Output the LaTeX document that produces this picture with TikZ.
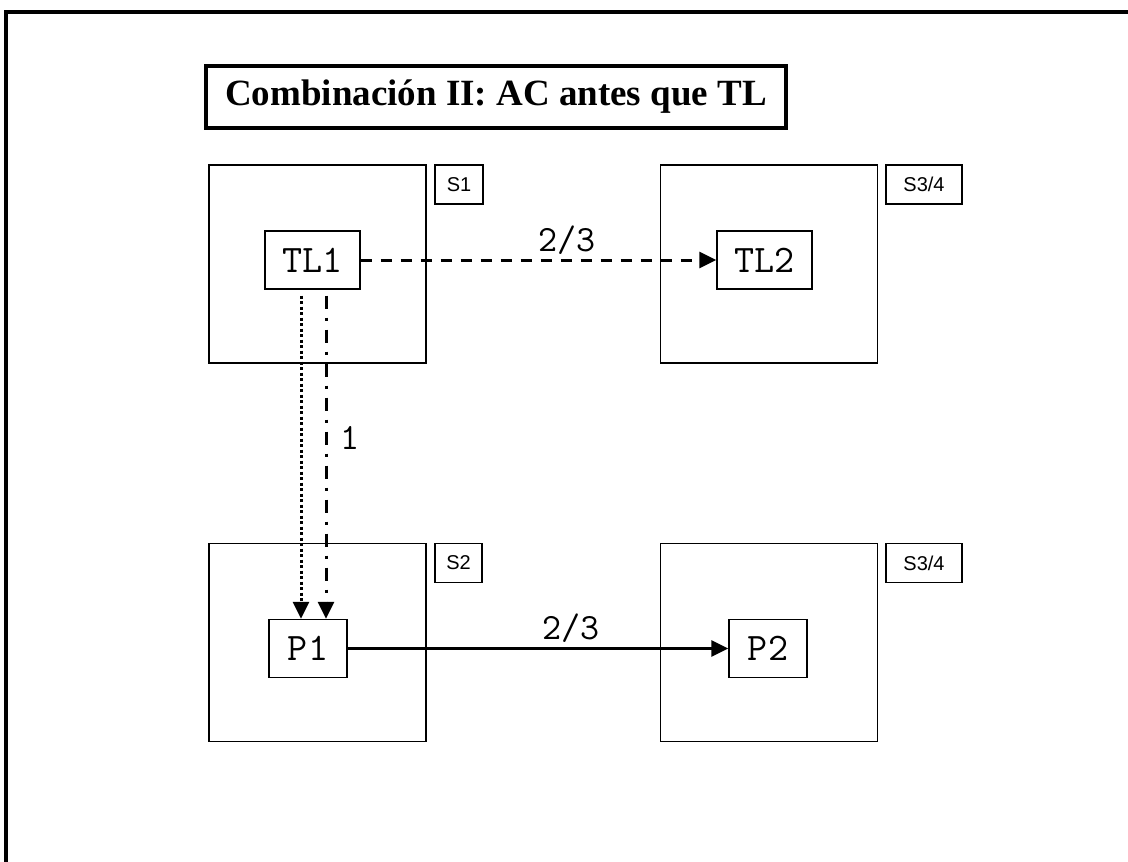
\documentclass[tikz,border=0pt]{standalone}
\usepackage{fontspec}
\setmainfont{Liberation Serif}
\newfontfamily\tagfont{Liberation Sans}
\usetikzlibrary{positioning,arrows.meta,calc}

\begin{document}
\begin{tikzpicture}[x=1pt, y=-1pt,
  every node/.style={draw, line width=1.3pt, inner sep=0pt},
  site/.style={minimum width=217pt, minimum height=198pt},
  tag/.style={minimum height=39pt, font=\tagfont\fontsize{20}{22}\selectfont},
  proc/.style={minimum height=58pt, font=\ttfamily\fontsize{39}{41}\selectfont},
  lbl/.style={draw=none, font=\ttfamily\fontsize{37}{40}\selectfont},
  a/.style={line width=3pt, -{Triangle[length=17pt,width=16pt]}}
]
\useasboundingbox (0,0) rectangle (1128,862);

% --- outer frame (top and left only) ---
\draw[line width=4pt] (5.5,862) -- (5.5,11.5) -- (1128,11.5);

% --- title ---
\node[line width=4pt, minimum width=580pt, minimum height=62pt,
  font=\bfseries\fontsize{37}{40}\selectfont] (title) at (496,97)
  {Combinación II: AC antes que TL};

% --- sites ---
\node[site] (R1) at (317.5,264) {};
\node[site] (R3) at (769,264) {};
\node[site] (R2) at (317.5,642.5) {};
\node[site] (R4) at (769,642.5) {};

% site tags
\node[tag, minimum width=48pt] (t1) at (459,184.5) {S1};
\node[tag, minimum width=76pt] (t3) at (924,184.5) {S3/4};
\node[tag, minimum width=47pt] (t2) at (458.5,563) {S2};
\node[tag, minimum width=76pt] (t4) at (924,563) {S3/4};

% --- inner nodes ---
\node[proc, minimum width=95pt] (TL1) at (312.5,260) {TL1};
\node[proc, minimum width=95pt] (TL2) at (764.5,260) {TL2};
\node[proc, minimum width=78pt] (P1) at (308,648.5) {P1};
\node[proc, minimum width=78pt] (P2) at (768,648.5) {P2};

% --- connectors ---
\draw[a, dash pattern=on 11pt off 9pt] (TL1) -- (TL2);
\draw[a] (P1) -- (P2);
\draw[a, dash pattern=on 3pt off 2.5pt]
  ($(P1.north|-TL1.south)+(-7,6)$) -- ($(P1.north)+(-7,0)$);
\draw[a, dash pattern=on 13pt off 9pt on 3pt off 9pt]
  ($(P1.north|-TL1.south)+(18,6)$) -- ($(P1.north)+(18,0)$);

% labels
\node[lbl] (l1) at (567,240) {2/3};
\node[lbl] (l2) at (571,628) {2/3};
\node[lbl] (l3) at (350,438) {1};

\end{tikzpicture}
\end{document}
